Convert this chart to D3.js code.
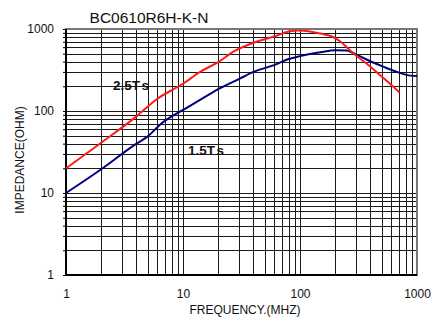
<!DOCTYPE html>
<html>
<head>
<meta charset="utf-8">
<script src="https://cdn.jsdelivr.net/npm/d3@7"></script>
<style>
  body { margin: 0; background: #fff; }
  svg { display: block; font-family: Arial, "Liberation Sans", sans-serif; }
</style>
</head>
<body>
<script>
// data
const freqRed = [1, 2, 4, 6, 10, 14, 20, 27, 40, 60, 80, 100, 150, 190, 220, 285, 370, 520, 710];
const impRed  = [20, 41, 86, 140, 215, 300, 395, 530, 680, 810, 930, 960, 880, 805, 710, 505, 380, 250, 168];

const freqBlue = [1, 2, 4, 5, 6.5, 8, 10, 14, 20, 30, 40, 60, 80, 100, 150, 200, 250, 290, 370, 520, 690, 880, 1000];
const impBlue  = [10, 19.5, 40, 49, 70, 86, 103, 137, 185, 245, 300, 362, 430, 467, 520, 552, 545, 505, 425, 345, 296, 270, 268];

const xTicks = [1, 10, 100, 1000];
const yTicks = [1, 10, 100, 1000];
const curveLabels = [["2.5T", "s"], ["1.5T", "s"]];

const width = 432, height = 318;
const svg = d3.select("body").append("svg")
              .attr("width", width)
              .attr("height", height);

const x = d3.scaleLog().domain([1, 1000]).range([66, 417]),
      y = d3.scaleLog().domain([1, 1000]).range([275, 29]);

// all the 1..9 steps in each decade
const minor = [];
[1, 10, 100].forEach(d => { for (let i = 1; i < 10; i++) minor.push(d * i); });
minor.push(1000);

const grid = svg.append("g").attr("shape-rendering", "crispEdges");

grid.selectAll("line.v")
    .data(minor)
    .join("line")
    .attr("class", "v")
    .attr("x1", d => Math.round(x(d)) + 0.5)
    .attr("x2", d => Math.round(x(d)) + 0.5)
    .attr("y1", y(1000))
    .attr("y2", y(1))
    .attr("stroke", "#1a1a1a")
    .attr("stroke-width", 1);

grid.selectAll("line.h")
    .data(minor)
    .join("line")
    .attr("class", "h")
    .attr("y1", d => Math.round(y(d)) + 0.5)
    .attr("y2", d => Math.round(y(d)) + 0.5)
    .attr("x1", x(1))
    .attr("x2", x(1000))
    .attr("stroke", "#1a1a1a")
    .attr("stroke-width", 1);

// frame
grid.append("rect")
    .attr("x", x(1)).attr("y", y(1000))
    .attr("width", x(1000) - x(1)).attr("height", y(1) - y(1000))
    .attr("fill", "none").attr("stroke", "#777").attr("stroke-width", 1.5);
grid.append("line")
    .attr("x1", x(1)).attr("x2", x(1)).attr("y1", y(1000)).attr("y2", y(1))
    .attr("stroke", "#000").attr("stroke-width", 2);
grid.append("line")
    .attr("x1", x(1)).attr("x2", x(1000)).attr("y1", y(1)).attr("y2", y(1))
    .attr("stroke", "#000").attr("stroke-width", 2);

// left axis: short ticks on every grid line, labels on decades
const yAxis = d3.axisLeft(y)
                .tickValues(minor)
                .tickSize(3)
                .tickPadding(9)
                .tickFormat(d => yTicks.includes(d) ? d : "");
svg.append("g")
   .attr("transform", "translate(" + x(1) + ",0)")
   .call(yAxis)
   .call(g => g.select(".domain").remove())
   .call(g => g.selectAll("line").attr("stroke", "#000"))
   .call(g => g.selectAll("text").attr("font-size", 12).attr("font-family", "Arial, 'Liberation Sans', sans-serif").attr("fill", "#111"));

const xAxis = d3.axisBottom(x)
                .tickValues(xTicks)
                .tickSize(0)
                .tickPadding(14)
                .tickFormat(d => d);
svg.append("g")
   .attr("transform", "translate(0," + y(1) + ")")
   .call(xAxis)
   .call(g => g.select(".domain").remove())
   .call(g => g.selectAll("text").attr("font-size", 12).attr("font-family", "Arial, 'Liberation Sans', sans-serif").attr("fill", "#111"));

// curves
const line = d3.line()
               .x(d => x(d[0]))
               .y(d => y(d[1]))
               .curve(d3.curveMonotoneX);

svg.append("path")
   .attr("d", line(d3.zip(freqBlue, impBlue)))
   .attr("fill", "none")
   .attr("stroke", "#00007f")
   .attr("stroke-width", 2);

svg.append("path")
   .attr("d", line(d3.zip(freqRed, impRed)))
   .attr("fill", "none")
   .attr("stroke", "#ff1a1a")
   .attr("stroke-width", 2);

// texts
svg.append("text")
   .attr("x", 149).attr("y", 22.5)
   .attr("text-anchor", "middle")
   .attr("font-size", 15.5)
   .attr("fill", "#111")
   .text("BC0610R6H-K-N");

svg.append("text")
   .attr("x", 245).attr("y", 314)
   .attr("text-anchor", "middle")
   .attr("font-size", 12)
   .attr("fill", "#111")
   .text("FREQUENCY.(MHZ)");

svg.append("text")
   .attr("transform", "translate(24,160) rotate(-90)")
   .attr("text-anchor", "middle")
   .attr("font-size", 12)
   .attr("fill", "#111")
   .text("IMPEDANCE(OHM)");

const lab = svg.selectAll("text.curve")
   .data([[113, 90], [188, 155]])
   .join("text")
   .attr("class", "curve")
   .attr("x", d => d[0]).attr("y", d => d[1])
   .attr("font-size", 13.5)
   .attr("font-weight", "bold")
   .attr("fill", "#111");
lab.append("tspan").text((d, i) => curveLabels[i][0]);
lab.append("tspan").attr("dx", 2.5).text((d, i) => curveLabels[i][1]);
</script>
</body>
</html>
